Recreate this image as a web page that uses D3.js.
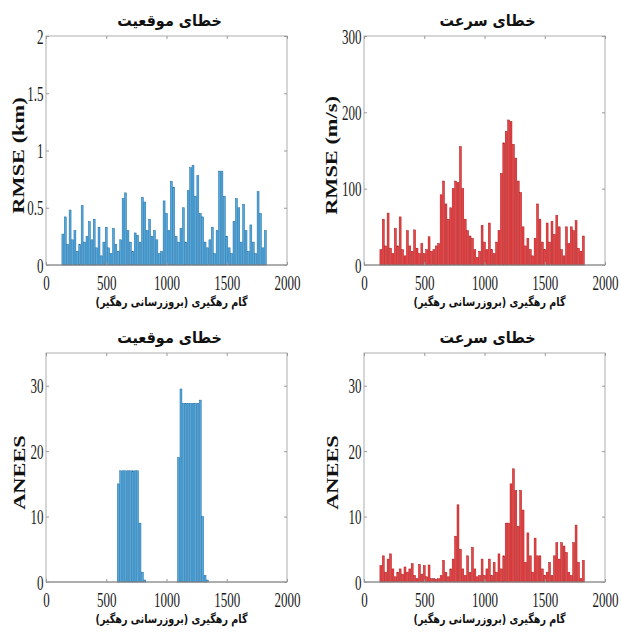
<!DOCTYPE html>
<html>
<head>
<meta charset="utf-8">
<script src="https://cdn.jsdelivr.net/npm/d3@7"></script>
<style>
  body { margin: 0; background: #fff; }
  svg { display: block; }
</style>
</head>
<body>
<svg id="chart" width="621" height="633"></svg>
<script>
// gam-e rahgiri, one bar every 20 steps
var steps = d3.range(140, 1821, 20);

// RMSE of position (km)
var posRmse = [
  0.27,0.42,0.18,0.48,0.22,0.30,0.12,0.18,0.52,0.20,
  0.25,0.38,0.22,0.40,0.15,0.33,0.08,0.20,0.33,0.15,
  0.10,0.32,0.18,0.12,0.22,0.58,0.63,0.30,0.20,0.12,
  0.28,0.26,0.20,0.59,0.55,0.30,0.40,0.25,0.30,0.22,
  0.10,0.12,0.56,0.45,0.30,0.73,0.68,0.25,0.20,0.32,
  0.50,0.20,0.65,0.85,0.87,0.60,0.78,0.45,0.42,0.20,
  0.15,0.22,0.33,0.10,0.30,0.82,0.82,0.60,0.25,0.15,
  0.10,0.38,0.58,0.50,0.20,0.53,0.30,0.12,0.35,0.20,
  0.10,0.64,0.45,0.15,0.30
];
// RMSE of velocity (m/s)
var velRmse = [
  20,60,25,68,22,15,48,25,63,20,
  12,45,25,18,46,22,15,28,15,20,
  37,18,20,25,28,92,110,80,60,75,
  100,110,108,155,100,60,45,38,35,20,
  10,18,52,30,20,55,20,15,30,45,
  120,160,175,190,188,158,140,110,95,50,
  25,35,20,12,35,80,60,30,20,55,
  30,57,40,65,50,20,12,50,28,50,
  45,58,22,18,38
];
// ANEES of position
var posAnees = [
  0,0,0,0,0,0,0,0,0,0,
  0,0,0,0,0,0,0,0,0,0,
  0,0,0,15,17,17,17,17,17,17,
  17,17,9,1.5,0.3,0,0,0,0,0,
  0,0,0,0,0,0,0,0,19,29.5,
  27.3,27.3,27.3,27.3,27.3,27.3,27.3,27.8,10,1,
  0.3,0,0,0,0,0,0,0,0,0,
  0,0,0,0,0,0,0,0,0,0,
  0,0,0,0,0
];
// ANEES of velocity
var velAnees = [
  2.5,4.0,1.5,3.5,4.3,2.0,0.8,1.5,2.0,1.2,
  2.3,1.5,2.0,2.8,1.0,0.5,2.7,1.2,2.5,0.8,
  2.6,0.5,0.5,0.4,0.5,1.0,3.3,1.5,0.8,2.0,
  3.5,7.0,11.8,5.0,2.0,1.0,4.0,1.5,5.3,2.0,
  0.8,1.0,3.5,1.0,2.0,3.5,1.0,3.0,1.5,4.3,
  2.0,4.0,9.0,9.0,15.0,17.3,14.0,8.5,14.0,11.0,
  3.0,7.5,4.0,1.5,6.7,4.0,4.0,2.0,1.0,1.5,
  3.0,1.0,4.0,6.0,3.5,6.0,5.5,4.5,1.5,1.0,
  6.0,8.7,3.0,0.5,3.3
];

var xTicks = [0, 500, 1000, 1500, 2000];
var kmTicks = [0, 0.5, 1, 1.5, 2];
var msTicks = [0, 100, 200, 300];
var aneesTicks = [0, 10, 20, 30];

var titlePos = "خطای موقعیت";
var titleVel = "خطای سرعت";
var xLabel = "گام رهگیری (بروزرسانی رهگیر)";

var blue = { fill: "#52a9de", edge: "#1f6aa0" };
var red = { fill: "#ea4446", edge: "#a8191b" };

var svg = d3.select("#chart");
var W = 241, H = 229;

function drawPanel(p) {
  var g = svg.append("g");
  var x = d3.scaleLinear().domain([0, 2000]).range([p.left, p.left + W]);
  var y = d3.scaleLinear().domain(p.yDomain).range([p.top + H, p.top]);

  // bars (matlab style, 0.8 of the step)
  g.selectAll("rect.bar")
    .data(p.values.map(function(v, i) { return { s: steps[i], v: v }; }))
    .enter()
    .append("rect")
    .attr("class", "bar")
    .attr("x", d => x(d.s - 8))
    .attr("width", d => x(d.s + 8) - x(d.s - 8))
    .attr("y", d => y(d.v))
    .attr("height", d => y(0) - y(d.v))
    .attr("fill", p.color.fill)
    .attr("stroke", p.color.edge)
    .attr("stroke-width", 0.5);

  // baseline
  g.append("line")
    .attr("x1", x(0)).attr("x2", x(2000))
    .attr("y1", y(0)).attr("y2", y(0))
    .attr("stroke", "#555").attr("stroke-width", 0.8);

  // box
  g.append("rect")
    .attr("x", p.left).attr("y", p.top)
    .attr("width", W).attr("height", H)
    .attr("fill", "none").attr("stroke", "#9a9a9a").attr("stroke-width", 0.8);

  var xAxis = g.append("g")
    .attr("transform", "translate(0," + (p.top + H) + ")")
    .call(d3.axisBottom(x).tickValues(xTicks).tickSize(-3).tickSizeOuter(0).tickFormat(d => d));
  var yAxis = g.append("g")
    .attr("transform", "translate(" + p.left + ",0)")
    .call(d3.axisLeft(y).tickValues(p.yTicks).tickSize(-3).tickSizeOuter(0).tickFormat(d => d));
  g.append("g")
    .attr("transform", "translate(0," + p.top + ")")
    .call(d3.axisTop(x).tickValues(xTicks).tickSize(-3).tickSizeOuter(0).tickFormat(""));
  g.append("g")
    .attr("transform", "translate(" + (p.left + W) + ",0)")
    .call(d3.axisRight(y).tickValues(p.yTicks).tickSize(-3).tickSizeOuter(0).tickFormat(""));

  g.selectAll(".domain").remove();
  g.selectAll(".tick line").attr("stroke", "#9a9a9a");

  xAxis.selectAll("text")
    .attr("y", 10)
    .attr("fill", "#1a1a1a")
    .attr("font-family", "Liberation Serif")
    .attr("font-size", 21)
    .attr("transform", "scale(0.62,1)");
  yAxis.selectAll("text")
    .attr("x", -4)
    .attr("dy", "0.34em")
    .attr("fill", "#1a1a1a")
    .attr("font-family", "Liberation Serif")
    .attr("font-size", 21)
    .attr("transform", "scale(0.62,1)");

  // title
  var cx = p.left + W / 2 + 3;
  g.append("text")
    .attr("transform", "translate(" + cx + "," + (p.top - 10) + ") scale(0.9,1)")
    .attr("text-anchor", "middle")
    .attr("direction", "rtl")
    .attr("font-family", "DejaVu Sans")
    .attr("font-weight", "bold")
    .attr("font-size", 16)
    .attr("fill", "#111")
    .text(p.title);

  // x label
  g.append("text")
    .attr("transform", "translate(" + (cx + 2) + "," + (p.top + H + 41) + ") scale(0.8,1)")
    .attr("text-anchor", "middle")
    .attr("direction", "rtl")
    .attr("font-family", "DejaVu Sans")
    .attr("font-weight", "bold")
    .attr("font-size", 12)
    .attr("fill", "#111")
    .text(xLabel);

  // y label
  g.append("text")
    .attr("transform", "translate(" + p.yLabelX + "," + (p.top + H / 2 + 5) + ") rotate(-90) scale(1.4,1)")
    .attr("text-anchor", "middle")
    .attr("dy", "0.35em")
    .attr("font-family", "Liberation Serif")
    .attr("font-weight", "bold")
    .attr("font-size", 16)
    .attr("fill", "#111")
    .text(p.yLabel);
}

drawPanel({ left: 46, top: 36, values: posRmse, yDomain: [0, 2], yTicks: kmTicks,
  color: blue, title: titlePos, yLabel: "RMSE (km)", yLabelX: 18 });
drawPanel({ left: 364, top: 36, values: velRmse, yDomain: [0, 300], yTicks: msTicks,
  color: red, title: titleVel, yLabel: "RMSE (m/s)", yLabelX: 331 });
drawPanel({ left: 46, top: 353, values: posAnees, yDomain: [0, 35], yTicks: aneesTicks,
  color: blue, title: titlePos, yLabel: "ANEES", yLabelX: 19 });
drawPanel({ left: 364, top: 353, values: velAnees, yDomain: [0, 35], yTicks: aneesTicks,
  color: red, title: titleVel, yLabel: "ANEES", yLabelX: 332 });
</script>
</body>
</html>
